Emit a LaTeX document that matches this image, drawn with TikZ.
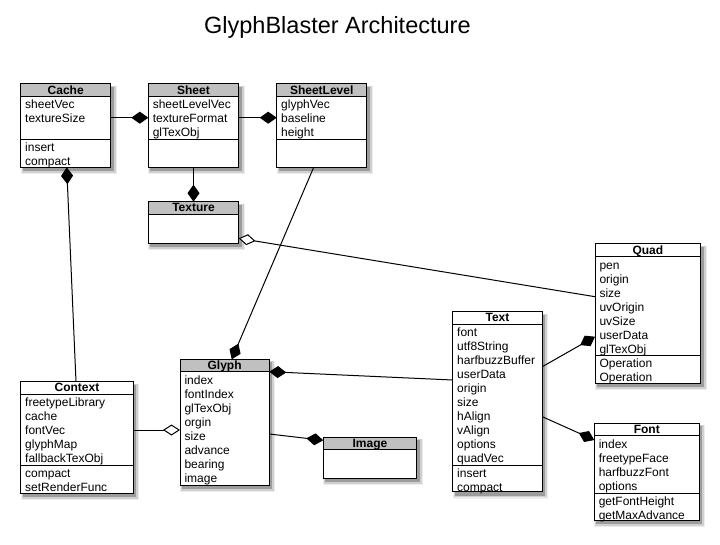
\documentclass[tikz,border=0pt]{standalone}
\usepackage{fontspec}
\setmainfont{Liberation Sans}
\usetikzlibrary{arrows.meta,calc}
\definecolor{hdrgray}{RGB}{192,192,192}
\tikzset{
  classframe/.style={draw, fill=white, anchor=north west, inner sep=0pt, outer sep=0pt},
  classtitle/.style={anchor=base, inner sep=0pt, font=\bfseries\fontsize{12}{14}\selectfont},
  members/.style={anchor=north west, inner sep=0pt, align=left, font=\fontsize{12}{14}\selectfont},
  comp/.style={-{Diamond[length=17pt,width=12pt]}},
  agg/.style={-{Diamond[length=17pt,width=11pt,fill=white]}},
}
% #1 name, #2 left, #3 top, #4 right, #5 divider, #6 bottom, #7 title, #8 header fill
\newcommand{\classbox}[8]{%
  \fill[black,opacity=0.07] (#2,#3+2) rectangle (#4+6,#6+7);
  \fill[black,opacity=0.12] (#2+1,#3+2) rectangle (#4+5,#6+5.5);
  \fill[black,opacity=0.25] (#2+2,#3+3) rectangle (#4+3,#6+4);
  \node[classframe, minimum width={(#4-#2)*1pt}, minimum height={(#6-#3)*1pt}] (#1) at (#2,#3) {};
  \filldraw[fill=#8] (#2,#3) rectangle (#4,#3+12.5);
  \node[classtitle] (#1-t) at ({(#2+#4)/2},#3+10.2) {#7};
  \draw (#2,#5) -- (#4,#5);
}
\begin{document}
\begin{tikzpicture}[x=1pt,y=-1pt,line width=1pt]
\useasboundingbox (0,0) rectangle (720,545);
\node[anchor=base, inner sep=0pt, font=\fontsize{23.5}{28}\selectfont] (title) at (337.4,33.3) {GlyphBlaster Architecture};

% classes
\classbox{Cache}{20.7}{84}{110.7}{139.3}{167.3}{Cache}{hdrgray}
\node[members] (Cache-a) at (24.7,98.7) {\strut sheetVec\\textureSize};
\node[members] (Cache-m) at (24.7,141) {\strut insert\\compact};

\classbox{Sheet}{148.3}{84}{238.7}{139.3}{167.3}{Sheet}{hdrgray}
\node[members] (Sheet-a) at (152.3,98.7) {\strut sheetLevelVec\\textureFormat\\glTexObj};

\classbox{SheetLevel}{276.7}{84}{366.7}{139.3}{167.3}{SheetLevel}{hdrgray}
\node[members] (SheetLevel-a) at (280.7,98.7) {\strut glyphVec\\baseline\\height};

\classbox{Texture}{148.3}{201.7}{238.7}{243.3}{243.3}{Texture}{hdrgray}

\classbox{Context}{20.7}{381.7}{133.3}{465}{493.3}{Context}{white}
\node[members] (Context-a) at (24.7,396.4) {\strut freetypeLibrary\\cache\\fontVec\\glyphMap\\fallbackTexObj};
\node[members] (Context-m) at (24.7,466.7) {\strut compact\\setRenderFunc};

\classbox{Glyph}{180}{359.3}{269.3}{485}{485}{Glyph}{hdrgray}
\node[members] (Glyph-a) at (184,374) {\strut index\\fontIndex\\glTexObj\\orgin\\size\\advance\\bearing\\image};

\classbox{Image}{323.3}{437.3}{416.7}{478.3}{478.3}{Image}{hdrgray}

\classbox{Text}{452.7}{311.7}{542.3}{465}{491.7}{Text}{white}
\node[members] (Text-a) at (456.7,326.4) {\strut font\\utf8String\\harfbuzzBuffer\\userData\\origin\\size\\hAlign\\vAlign\\options\\quadVec};
\node[members] (Text-m) at (456.7,466.7) {\strut insert\\compact};

\classbox{Quad}{595}{244}{700.7}{355.7}{383.3}{Quad}{white}
\node[members] (Quad-a) at (599,258.7) {\strut pen\\origin\\size\\uvOrigin\\uvSize\\userData\\glTexObj};
\node[members] (Quad-m) at (599,357.4) {\strut Operation\\Operation};

\classbox{Font}{594.3}{423.3}{699.3}{493.3}{520}{Font}{white}
\node[members] (Font-a) at (598.3,438) {\strut index\\freetypeFace\\harfbuzzFont\\options};
\node[members] (Font-m) at (598.3,495) {\strut getFontHeight\\getMaxAdvance};

% connectors
\draw[comp] ($(Cache.north east)+(0,33.7)$) -- ($(Sheet.north west)+(0,33.7)$);
\draw[comp] ($(Sheet.north east)+(0,33.7)$) -- ($(SheetLevel.north west)+(0,33.7)$);
\draw[comp] (Sheet.south) -- (Texture.north);
\draw[comp] ($(Context.north west)+(55.3,0)$) -- ($(Cache.south west)+(46,0)$);
\draw[agg] ($(Quad.north west)+(0,52.7)$) -- ($(Texture.north east)+(0,36.6)$);
\draw[comp] ($(SheetLevel.south west)+(37,0)$) -- ($(Glyph.north west)+(51.7,0)$);
\draw[comp] ($(Text.north west)+(0,68.3)$) -- ($(Glyph.north east)+(0,12.4)$);
\draw[agg] ($(Context.north east)+(0,48.3)$) -- ($(Glyph.north west)+(0,70.7)$);
\draw[comp] ($(Glyph.north east)+(0,74.7)$) -- ($(Image.north west)+(0,3)$);
\draw[comp] ($(Text.north east)+(0,55)$) -- ($(Quad.north west)+(0,92.7)$);
\draw[comp] ($(Text.north east)+(0,105)$) -- ($(Font.north west)+(0,16.7)$);
\end{tikzpicture}
\end{document}
